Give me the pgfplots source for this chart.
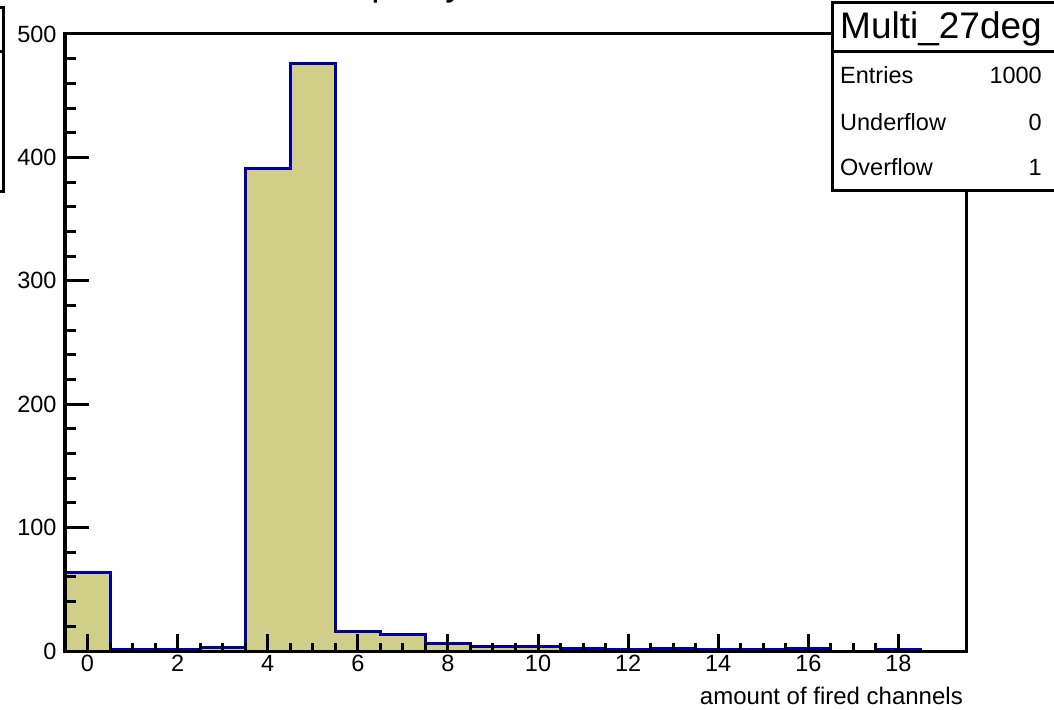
\documentclass[border=0pt]{standalone}
\usepackage{pgfplots}
\usepackage{pgfplotstable}
\pgfplotsset{compat=1.18}
\usepackage{fontspec}
\setmainfont{Liberation Sans}

\definecolor{histfill}{RGB}{209,206,137}
\definecolor{histline}{RGB}{0,0,160}

% bin low edge, counts (unit-width bins from -0.5 to 19.5); last row closes the outline
\pgfplotstableread{
x     y
-0.5  64
0.5   1
1.5   1
2.5   3
3.5   391
4.5   476
5.5   16
6.5   13
7.5   6
8.5   4
9.5   4
10.5  2
11.5  1
12.5  2
13.5  1
14.5  1
15.5  2
16.5  0
17.5  1
18.5  0
19.5  0
}\multitable

\pgfplotsset{
  rootframe/.style={
    at={(65pt,58pt)}, anchor=south west,
    scale only axis, width=901pt, height=617pt,
    xmin=-0.5, xmax=19.5, ymin=0, ymax=500,
    tick pos=left, tick align=inside,
    axis line style={line width=3pt, black},
    tick style={line width=3pt, black},
    ticklabel style={font=\fontsize{23.5}{23.5}\selectfont},
    /pgf/number format/assume math mode=true,
  },
}

\begin{document}
\begin{tikzpicture}[x=1pt, y=1pt]
\useasboundingbox (0,0) rectangle (1054,709);

% title of the canvas, mostly above the drawn area
\node[anchor=base west, inner sep=0pt, font=\fontsize{37}{37}\selectfont] at (293,713.5) {Multiplicity};

% neighbouring statistics box at the left edge
\draw[line width=3pt] (-120,517) rectangle (3,701);
\draw[line width=3pt] (-120,657) -- (3,657);

% histogram with x ticks
\begin{axis}[rootframe,
  axis on top,
  xtick={0,2,...,18}, minor x tick num=3,
  ytick=\empty,
  major tick length=17pt, minor tick length=8pt,
  xticklabel style={yshift=-1pt},
]
\addplot[fill=histfill, draw=none, const plot mark left] table {\multitable} \closedcycle;
\addplot[histline, line width=3pt, const plot mark left] table {\multitable};
\end{axis}

% y ticks
\begin{axis}[rootframe,
  xtick=\empty,
  ytick={0,100,...,500}, minor y tick num=4,
  major tick length=24pt, minor tick length=11pt,
  yticklabel style={xshift=-5pt},
]
\end{axis}

\node[anchor=base east, inner sep=0pt, font=\fontsize{24}{24}\selectfont] at (963,5) {amount of fired channels};

% statistics box
\draw[line width=3pt, fill=white] (832,518) rectangle (1080,706);
\draw[line width=3pt] (832,657) -- (1080,657);
\node[anchor=base west, inner sep=0pt, font=\fontsize{37}{37}\selectfont] at (840,670) {Multi\_27deg};
\node[anchor=base west, inner sep=0pt, font=\fontsize{23.5}{23.5}\selectfont] at (840,625) {Entries};
\node[anchor=base east, inner sep=0pt, font=\fontsize{23.5}{23.5}\selectfont] at (1042,625) {1000};
\node[anchor=base west, inner sep=0pt, font=\fontsize{23.5}{23.5}\selectfont] at (840,578) {Underflow};
\node[anchor=base east, inner sep=0pt, font=\fontsize{23.5}{23.5}\selectfont] at (1042,578) {0};
\node[anchor=base west, inner sep=0pt, font=\fontsize{23.5}{23.5}\selectfont] at (840,533) {Overflow};
\node[anchor=base east, inner sep=0pt, font=\fontsize{23.5}{23.5}\selectfont] at (1042,533) {1};
\end{tikzpicture}
\end{document}
